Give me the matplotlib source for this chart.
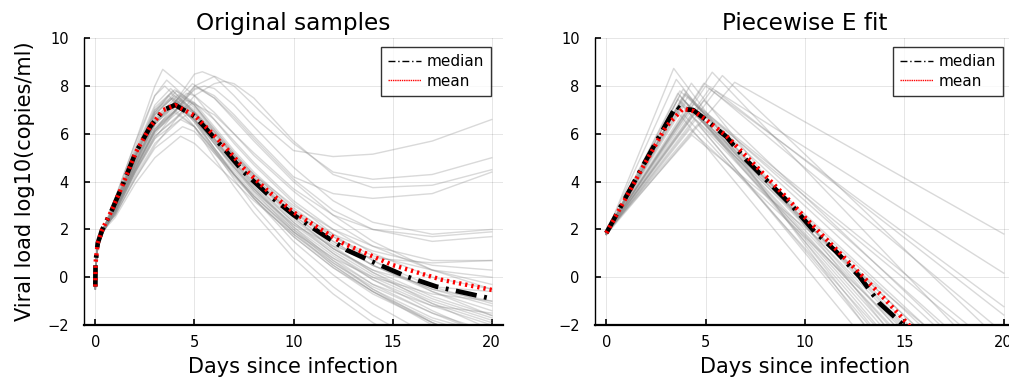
import numpy as np
import matplotlib
matplotlib.use("Agg")
import matplotlib.pyplot as plt
from matplotlib.lines import Line2D

# ---------------- data: left panel (original samples) ----------------
grid_days = [0, 0.03, 0.12, 0.4, 1, 2, 3, 5, 6, 7, 8, 10, 12, 14, 17, 20]
early_a = [-0.45, 0.5, 1.35, 1.95]
early_b = [-0.35, 0.6, 1.4, 2.0]
early_c = [-0.5, 0.4, 1.3, 1.9]
early_d = [-0.3, 0.7, 1.5, 2.05]

orig_curves = [
    early_b + [3.3, 5.6, 8.0, 7.6, 6.6, 5.6, 4.7, 3.1, 1.8, 0.7, -0.6, -1.6],
    early_a + [3.2, 5.4, 7.6, 7.2, 6.1, 5.1, 4.2, 2.6, 1.3, 0.2, -1.1, -2.2],
    early_c + [3.0, 5.0, 6.9, 7.2, 6.2, 5.2, 4.3, 2.8, 1.5, 0.5, -0.6, -1.4],
    early_b + [3.1, 5.1, 7.0, 6.9, 5.8, 4.8, 3.9, 2.3, 1.0, -0.1, -1.4, -2.5],
    early_a + [3.0, 5.1, 6.9, 6.5, 5.4, 4.4, 3.5, 2.0, 0.8, -0.3, -1.5, -2.5],
    early_d + [2.9, 4.8, 6.5, 7.0, 6.0, 5.0, 4.1, 2.6, 1.4, 0.5, -0.5, -1.2],
    early_c + [2.9, 4.8, 6.5, 6.6, 5.6, 4.6, 3.7, 2.2, 1.0, 0.0, -1.1, -1.9],
    early_a + [2.8, 4.6, 6.2, 6.9, 6.0, 5.1, 4.3, 3.0, 2.0, 1.3, 0.7, 0.7],
    early_b + [2.8, 4.5, 6.1, 6.6, 5.7, 4.8, 4.0, 2.7, 1.7, 0.9, 0.3, 0.0],
    early_c + [2.7, 4.4, 5.8, 6.6, 5.7, 4.7, 3.8, 2.3, 1.1, 0.1, -1.0, -1.8],
    early_d + [2.6, 4.2, 5.6, 6.3, 5.3, 4.3, 3.4, 1.8, 0.5, -0.6, -1.9, -3.0],
    early_a + [2.5, 3.9, 5.0, 5.6, 4.8, 4.0, 3.2, 1.8, 0.6, -0.4, -1.5, -2.3],
    early_b + [2.9, 4.7, 6.4, 8.05, 7.5, 6.6, 5.7, 4.0, 2.6, 1.5, 0.3, -0.5],
    early_c + [2.8, 4.5, 6.1, 8.5, 8.4, 7.6, 6.7, 5.3, 5.05, 5.15, 5.7, 6.6],
    early_a + [2.7, 4.3, 5.8, 8.0, 8.4, 8.0, 7.2, 5.6, 4.4, 4.1, 4.3, 5.0],
    early_d + [2.6, 4.1, 5.5, 7.6, 8.1, 8.1, 7.5, 5.7, 4.3, 3.75, 3.85, 4.5],
    early_b + [2.8, 4.5, 6.2, 7.98, 7.6, 6.8, 5.9, 4.2, 3.5, 3.3, 3.5, 4.4],
    early_c + [2.7, 4.4, 6.0, 7.9, 7.9, 7.2, 6.3, 4.6, 3.2, 2.3, 1.8, 2.0],
    early_a + [2.8, 4.5, 6.1, 7.85, 7.5, 6.7, 5.8, 4.1, 2.8, 2.0, 1.5, 1.7],
    early_b + [2.9, 4.7, 6.4, 7.6, 6.9, 6.0, 5.1, 3.6, 2.3, 1.3, 0.3, -0.3],
    early_d + [3.0, 5.0, 6.8, 6.9, 5.9, 4.9, 4.0, 2.5, 1.2, 0.2, -0.9, -1.7],
    early_a + [3.1, 5.2, 7.1, 6.6, 5.4, 4.3, 3.3, 1.7, 0.4, -0.7, -1.9, -2.8],
    early_c + [2.9, 4.9, 6.6, 6.8, 5.7, 4.6, 3.6, 1.9, 0.5, -0.6, -2.0, -3.0],
    early_b + [3.3, 5.6, 7.6, 6.8, 5.8, 4.8, 3.9, 2.4, 1.2, 0.3, -0.8, -1.6],
    early_d + [2.8, 4.7, 6.3, 6.6, 5.6, 4.6, 3.7, 2.1, 0.9, -0.1, -1.2, -2.0],
    early_a + [2.8, 4.6, 6.2, 7.3, 6.6, 5.7, 4.8, 3.2, 2.0, 1.0, 0.0, -0.5],
    early_c + [2.8, 4.6, 6.1, 6.3, 5.3, 4.3, 3.4, 1.9, 0.8, 0.0, -0.7, -1.0],
    early_b + [3.0, 5.1, 6.9, 6.7, 5.6, 4.5, 3.6, 2.2, 1.3, 0.8, 0.6, 0.7],
    early_d + [2.9, 4.8, 6.5, 7.2, 6.2, 5.2, 4.3, 2.8, 1.8, 1.1, 0.5, 0.3],
    early_a + [3.0, 5.0, 6.7, 6.3, 5.2, 4.2, 3.3, 1.7, 0.4, -0.6, -1.8, -2.6],
    early_c + [2.7, 4.4, 5.9, 7.25, 6.8, 6.0, 5.2, 3.7, 2.6, 2.0, 1.7, 1.9],
    early_b + [3.0, 5.0, 6.8, 7.3, 6.3, 5.3, 4.4, 2.9, 1.7, 0.7, -0.4, -1.1],
    early_d + [2.6, 4.1, 5.4, 6.1, 5.2, 4.3, 3.4, 1.9, 0.7, -0.3, -1.2, -1.5],
    early_a + [3.1, 5.3, 7.2, 6.9, 5.8, 4.8, 3.8, 2.1, 0.7, -0.5, -1.9, -2.9],
    early_c + [2.9, 4.9, 6.6, 7.1, 6.1, 5.1, 4.1, 2.5, 1.2, 0.3, -0.4, -0.6],
    early_b + [2.7, 4.4, 5.9, 6.9, 6.1, 5.1, 4.2, 2.7, 1.5, 0.5, -0.5, -1.0],
    early_a + [3.1, 5.2, 7.0, 6.3, 5.0, 3.8, 2.7, 0.8, -0.7, -1.9, -3.3, -4.5],
    early_c + [2.9, 4.8, 6.5, 6.5, 5.3, 4.1, 3.0, 1.1, -0.4, -1.6, -3.0, -4.0],
    early_d + [3.0, 5.0, 6.8, 6.6, 5.4, 4.3, 3.3, 1.5, 0.1, -1.1, -2.5, -3.5],
    early_b + [2.8, 4.7, 6.4, 6.9, 5.8, 4.7, 3.7, 2.0, 0.6, -0.5, -1.7, -2.4],
]
orig_peak_day = [3.4, 3.6, 4.0, 3.9, 3.7, 4.2, 4.0, 4.4, 4.3, 4.6, 4.3, 4.3, 4.9,
                 5.4, 6.05, 6.5, 5.02, 5.5, 5.2, 4.6, 4.0, 3.8, 4.1, 3.5, 4.2, 4.6,
                 4.0, 3.9, 4.3, 3.7, 4.9, 4.1, 4.4, 3.8, 4.2, 4.6, 3.8, 4.1, 3.9, 4.3]
orig_peak_val = [8.7, 8.25, 7.85, 7.8, 7.6, 7.5, 7.3, 7.2, 7.0, 6.8, 6.6, 5.9, 8.1,
                 8.6, 8.4, 8.2, 8.0, 8.0, 7.9, 7.7, 7.6, 7.7, 7.4, 8.0, 7.1, 7.4,
                 6.9, 7.5, 7.6, 7.2, 7.3, 7.8, 6.3, 7.9, 7.65, 7.0, 7.5, 7.3, 7.5, 7.4]

orig_median_days = [0, 0.01, 0.12, 0.34, 0.84, 1.34, 2.02, 2.77, 3.44, 4.03, 5.04,
                    6.47, 7.47, 8.65, 10, 11.25, 12.68, 14.36, 15.7, 17.2, 20]
orig_median_vals = [-0.39, 0.59, 1.42, 1.98, 2.82, 3.79, 5.19, 6.30, 7.0, 7.21, 6.72,
                    5.40, 4.42, 3.51, 2.61, 1.91, 1.14, 0.51, 0.03, -0.39, -0.9]
orig_mean_days = [0, 0.01, 0.12, 0.34, 0.84, 1.34, 2.02, 2.77, 3.44, 4.03, 5.04,
                  6.5, 7.5, 8.65, 10, 12.5, 15, 17.5, 20]
orig_mean_vals = [-0.39, 0.59, 1.42, 1.98, 2.82, 3.79, 5.19, 6.30, 7.0, 7.2, 6.75,
                  5.5, 4.55, 3.65, 2.72, 1.42, 0.51, -0.11, -0.53]

# ---------------- data: right panel (piecewise E fit) ----------------
fit_start_val = [1.82, 1.80, 1.85, 1.78, 1.83, 1.86, 1.81, 1.79, 1.84, 1.80, 1.87, 1.82,
                 1.78, 1.85, 1.83, 1.80, 1.81, 1.86, 1.79, 1.84, 1.82, 1.88, 1.80, 1.83,
                 1.85, 1.81, 1.78, 1.84, 1.86, 1.80, 1.82, 1.85, 1.79, 1.83, 1.81, 1.84]
fit_peak_day = [3.39, 5.33, 5.84, 6.46, 4.28, 3.52, 3.86, 4.91, 5.0, 5.5, 4.3, 3.6,
                3.7, 3.8, 3.9, 4.0, 4.1, 4.2, 3.5, 4.4, 4.5, 4.6, 3.7, 3.6,
                4.0, 3.8, 4.3, 4.1, 3.9, 4.7, 4.9, 3.95, 4.2, 4.4, 5.2, 3.75]
fit_peak_val = [8.74, 8.58, 8.44, 8.16, 8.12, 8.28, 7.87, 8.12, 8.0, 7.8, 5.95, 7.7,
                7.6, 7.5, 7.4, 7.3, 7.2, 7.1, 7.0, 6.9, 6.6, 6.4, 7.8, 7.45,
                7.65, 7.2, 7.0, 7.55, 6.8, 7.1, 7.4, 7.7, 6.2, 7.25, 7.9, 7.35]
fit_end_val = [-9.83, -4.17, -2.79, 1.81, -8.25, -9.04, -7.11, 0.17, -1.23, -1.58, -4.72, -8.21,
               -7.30, -6.50, -7.59, -5.98, -7.88, -5.08, -9.68, -6.85, -5.52, -8.64, -4.68, -9.04,
               -4.22, -6.99, -5.29, -6.51, -7.96, -3.21, -4.53, -6.39, -6.14, -3.51, -2.34, -5.58]
fit_end_day = 20

fit_median_days = [0, 1, 2, 3, 3.52, 3.7, 4.36, 4.86, 6.04, 7.04, 8.22, 9.39, 10.4,
                   11.57, 12.74, 13.75, 14.85, 16]
fit_median_vals = [1.85, 3.38, 4.9, 6.4, 7.17, 7.05, 7.0, 6.69, 5.88, 4.91, 3.93, 2.95,
                   1.98, 1.07, 0.03, -1.09, -1.92, -2.9]
fit_mean_days = [0, 1, 2, 3, 3.85, 4.4, 5, 6, 7, 8, 9, 10, 11, 12, 13, 14, 15, 16]
fit_mean_vals = [1.85, 3.35, 4.85, 6.3, 7.05, 6.95, 6.6, 5.95, 5.1, 4.25, 3.4, 2.5,
                 1.65, 0.8, -0.05, -0.9, -1.8, -2.7]

titles = ["Original samples", "Piecewise E fit"]
xlabel = "Days since infection"
ylabel = "Viral load log10(copies/ml)"
xticks = [0, 5, 10, 15, 20]
yticks = [-2, 0, 2, 4, 6, 8, 10]

# ---------------- plotting ----------------
plt.rcParams['font.family'] = ['DejaVu Sans']
fig = plt.figure(figsize=(10.09, 3.86), dpi=100)
ax1 = fig.add_axes([0.0833, 0.158, 0.4152, 0.7428])
ax2 = fig.add_axes([0.5897, 0.158, 0.4163, 0.7428])

gray_kw = dict(color=(0.55, 0.55, 0.55), alpha=0.33, lw=1.0, zorder=2)

for curve, tp, vp in zip(orig_curves, orig_peak_day, orig_peak_val):
    d = np.array(grid_days + [tp])
    v = np.array(curve + [vp])
    order = np.argsort(d, kind="stable")
    ax1.plot(d[order], v[order], **gray_kw)

for v0, tp, vp, ve in zip(fit_start_val, fit_peak_day, fit_peak_val, fit_end_val):
    ax2.plot([0, tp, fit_end_day], [v0, vp, ve], **gray_kw)

med_style = (0, (4.5, 1.6, 0.6, 1.6))
mean_style = (0, (0.5, 0.9))
ax1.plot(orig_median_days, orig_median_vals, color='black', lw=3.4,
         linestyle=med_style, zorder=4)
ax1.plot(orig_mean_days, orig_mean_vals, color='red', lw=3.2,
         linestyle=mean_style, zorder=5)
ax2.plot(fit_median_days, fit_median_vals, color='black', lw=3.4,
         linestyle=med_style, zorder=4)
ax2.plot(fit_mean_days, fit_mean_vals, color='red', lw=3.2,
         linestyle=mean_style, zorder=5)

handles = [Line2D([], [], color='black', lw=1.0, linestyle=(0, (5, 2, 1, 2))),
           Line2D([], [], color='red', lw=1.0, linestyle=(0, (1, 0.6)))]

for ax, title in zip([ax1, ax2], titles):
    ax.set_xlim(-0.57, 20.57)
    ax.set_ylim(-2, 10)
    ax.set_xticks(xticks)
    ax.set_yticks(yticks)
    ax.set_yticklabels(["\u22122" if t == -2 else str(t) for t in yticks])
    ax.grid(True, color=(0, 0, 0), alpha=0.1, lw=0.7)
    ax.set_axisbelow(True)
    for s in ['top', 'right']:
        ax.spines[s].set_visible(False)
    ax.spines['left'].set_linewidth(1.0)
    ax.spines['bottom'].set_linewidth(1.6)
    ax.tick_params(direction='in', length=4, width=1.2, labelsize=10.5)
    ax.tick_params(axis='y', pad=11)
    ax.tick_params(axis='x', pad=7)
    ax.set_title(title, fontsize=16.7, pad=6)
    ax.set_xlabel(xlabel, fontsize=15, labelpad=5)
    leg = ax.legend(handles, ["median", "mean"], loc='upper right',
                    bbox_to_anchor=(0.982, 0.985), fontsize=11, frameon=True,
                    fancybox=False, handlelength=2.2, handletextpad=0.35,
                    borderpad=0.45, labelspacing=0.3, borderaxespad=0.3)
    leg.get_frame().set_edgecolor('black')
    leg.get_frame().set_linewidth(1.0)

ax1.set_ylabel(ylabel, fontsize=15, labelpad=9)

fig.savefig("out.png", dpi=100)
